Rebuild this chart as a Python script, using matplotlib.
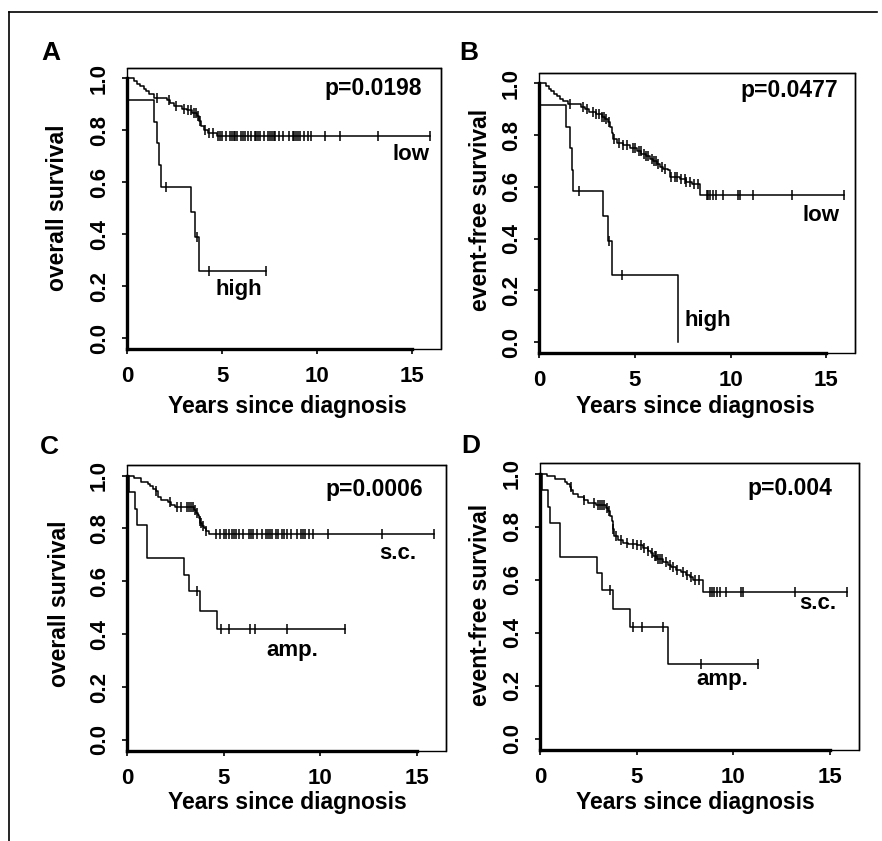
import numpy as np
import matplotlib
matplotlib.use("Agg")
import matplotlib.pyplot as plt
from matplotlib.lines import Line2D
from matplotlib.patches import Rectangle

plt.rcParams["font.family"] = ["Liberation Sans", "DejaVu Sans"]
plt.rcParams["font.weight"] = "bold"

W, H = 882, 841

# =========================
# data
# =========================
# A: overall survival, low / high
a_low_t = [0, 0.35, 0.55, 0.7, 0.87, 1.0, 1.14, 1.4, 2.1, 2.27, 2.45, 2.88, 3.15, 3.41, 3.67, 3.79, 3.9, 4.02, 4.28, 4.72]
a_low_s = [1.0, 0.99, 0.98, 0.97, 0.96, 0.95, 0.94, 0.923, 0.915, 0.906, 0.893, 0.884, 0.878, 0.867, 0.854, 0.835, 0.818, 0.80, 0.79, 0.777]
a_low_c = [1.6, 2.2, 2.6, 3.0, 3.2, 3.35, 3.5, 3.6, 3.75, 3.85, 4.1, 4.3, 4.5, 4.8, 4.9, 5.0, 5.2, 5.4, 5.5,
           5.6, 5.7, 5.8, 6.0, 6.1, 6.2, 6.35, 6.5, 6.7, 6.8, 6.9, 7.0, 7.2, 7.4, 7.5, 7.6, 7.7, 7.8, 8.0,
           8.2, 8.5, 8.7, 8.8, 8.9, 9.0, 9.1, 9.3, 9.5, 9.65, 10.4, 11.2, 13.2, 15.9]

a_high_t = [0, 0.05, 1.4, 1.6, 1.7, 1.8, 3.36, 3.58, 3.8]
a_high_s = [1.0, 0.917, 0.833, 0.75, 0.667, 0.583, 0.486, 0.389, 0.259]
a_high_c = [2.05, 3.66, 4.3, 7.3]

# B: event-free survival, low / high
b_low_t = [0, 0.35, 0.5, 0.65, 0.8, 0.95, 1.1, 1.25, 1.5, 2.2, 2.4, 2.6, 3.0, 3.3, 3.47, 3.6, 3.7, 3.8,
           3.87, 4.05, 4.4, 4.74, 5.1, 5.35, 5.6, 5.8, 5.97, 6.15, 6.3, 6.5, 6.75, 6.84, 7.36, 7.7, 7.97, 8.4]
b_low_s = [1.0, 0.99, 0.98, 0.97, 0.96, 0.95, 0.94, 0.93, 0.92, 0.91, 0.90, 0.891, 0.88, 0.87, 0.862, 0.85,
           0.83, 0.81, 0.785, 0.77, 0.76, 0.751, 0.74, 0.728, 0.72, 0.709, 0.70, 0.69, 0.677, 0.67, 0.664,
           0.638, 0.63, 0.62, 0.61, 0.569]
b_low_c = [1.6, 2.3, 2.5, 2.8, 3.0, 3.15, 3.3, 3.4, 3.5, 3.65, 3.9, 4.2, 4.4, 4.6, 4.9, 5.0, 5.2, 5.3, 5.5,
           5.6, 5.7, 5.9, 6.0, 6.1, 6.2, 6.4, 6.6, 6.9, 7.1, 7.2, 7.4, 7.6, 7.7, 7.9, 8.1, 8.3, 8.75, 8.85,
           8.95, 9.1, 9.25, 9.6, 10.4, 10.5, 11.2, 13.2, 15.9]

b_high_t = [0, 0.05, 1.4, 1.6, 1.7, 1.8, 3.36, 3.58, 3.8, 7.24]
b_high_s = [1.0, 0.917, 0.833, 0.75, 0.667, 0.583, 0.486, 0.389, 0.259, 0.0]
b_high_c = [2.09, 3.66, 4.31]

# C: overall survival, s.c. / amp.
c_sc_t = [0, 0.35, 0.7, 1.1, 1.2, 1.35, 1.5, 1.6, 1.76, 2.1, 2.3, 2.47, 3.45, 3.55, 3.65, 3.7, 3.75, 3.8,
          3.9, 4.0, 4.1, 4.25]
c_sc_s = [1.0, 0.99, 0.975, 0.97, 0.96, 0.95, 0.94, 0.92, 0.909, 0.90, 0.89, 0.88, 0.87, 0.86, 0.85, 0.84,
          0.83, 0.82, 0.81, 0.80, 0.79, 0.779]
c_sc_c = [1.5, 2.2, 2.6, 2.8, 3.1, 3.2, 3.3, 3.4, 3.5, 3.6, 3.75, 3.85, 3.95, 4.1, 4.6, 4.8, 5.0, 5.1, 5.3,
          5.45, 5.55, 5.65, 5.8, 6.0, 6.3, 6.4, 6.5, 6.7, 7.0, 7.2, 7.3, 7.4, 7.5, 7.7, 7.8, 8.0, 8.1, 8.3,
          8.5, 8.8, 9.0, 9.1, 9.2, 9.4, 9.6, 10.4, 13.2, 15.9]

c_amp_t = [0, 0.08, 0.43, 0.52, 1.03, 2.93, 3.22, 3.76, 4.66]
c_amp_s = [1.0, 0.9375, 0.875, 0.8125, 0.6875, 0.625, 0.5625, 0.488, 0.42]
c_amp_c = [3.62, 4.86, 5.26, 6.34, 6.64, 8.3, 11.3]

# D: event-free survival, s.c. / amp.
d_sc_t = [0, 0.34, 0.8, 1.3, 1.4, 1.55, 1.62, 1.72, 1.98, 2.3, 2.5, 2.92, 3.4, 3.5, 3.6, 3.7, 3.76, 3.85,
          4.04, 4.3, 4.56, 5.0, 5.33, 5.59, 5.75, 5.85, 6.06, 6.37, 6.62, 6.79, 7.05, 7.31, 7.57, 7.74,
          7.91, 8.43]
d_sc_s = [1.0, 0.99, 0.98, 0.97, 0.96, 0.95, 0.94, 0.922, 0.91, 0.90, 0.89, 0.88, 0.87, 0.86, 0.84, 0.82,
          0.79, 0.764, 0.75, 0.74, 0.736, 0.73, 0.72, 0.707, 0.70, 0.688, 0.678, 0.665, 0.657, 0.648,
          0.638, 0.628, 0.619, 0.61, 0.60, 0.552]
d_sc_c = [1.6, 2.3, 2.8, 3.0, 3.1, 3.2, 3.3, 3.45, 3.55, 3.8, 3.95, 4.2, 4.5, 4.8, 5.0, 5.2, 5.4, 5.6, 5.8,
          5.95, 6.0, 6.1, 6.2, 6.3, 6.5, 6.7, 6.9, 7.1, 7.4, 7.6, 7.8, 8.0, 8.2, 8.8, 8.9, 9.0, 9.15, 9.3,
          9.6, 10.4, 10.5, 13.2, 15.9]

d_amp_t = [0, 0.08, 0.43, 0.52, 1.03, 2.93, 3.22, 3.76, 4.66, 6.64]
d_amp_s = [1.0, 0.9375, 0.875, 0.8125, 0.6875, 0.625, 0.5625, 0.488, 0.42, 0.282]
d_amp_c = [3.62, 4.82, 5.28, 6.36, 8.34, 11.27]

# p-values and group labels
p_values = ["p=0.0198", "p=0.0477", "p=0.0006", "p=0.004"]
y_labels = ["overall survival", "event-free survival", "overall survival", "event-free survival"]
panel_letters = ["A", "B", "C", "D"]
group_labels = [("low", "high"), ("low", "high"), ("s.c.", "amp."), ("s.c.", "amp.")]

curves = [
    [(a_low_t, a_low_s, a_low_c), (a_high_t, a_high_s, a_high_c)],
    [(b_low_t, b_low_s, b_low_c), (b_high_t, b_high_s, b_high_c)],
    [(c_sc_t, c_sc_s, c_sc_c), (c_amp_t, c_amp_s, c_amp_c)],
    [(d_sc_t, d_sc_s, d_sc_c), (d_amp_t, d_amp_s, d_amp_c)],
]

# =========================
# layout (pixels of the 882x841 picture)
# =========================
# left, right, top, bottom of each axes box
boxes = [(127, 441, 68, 349), (539, 855, 73, 353), (127, 446, 465, 751), (540, 859, 463, 750)]
letter_pos = [(51, 53), (469, 53), (49, 447), (471, 446)]
ylabel_pos = [(58, 208), (480, 210), (59, 604), (480, 605)]
xlabel_pos = [(287, 407), (695, 407), (287, 802), (695, 803)]
# text positions in data coords: p-value (right edge), first group label, second group label
p_pos = [(15.5, 0.96), (15.6, 0.973), (15.3, 0.947), (15.1, 0.943)]
g1_pos = [(14.9, 0.706), (14.7, 0.49), (14.0, 0.705), (14.35, 0.51)]
g2_pos = [(5.9, 0.186), (8.83, 0.084), (8.54, 0.337), (9.43, 0.223)]

XMAX = 16.5
YMIN, YMAX = -0.042, 1.04


def step_value(times, surv, t):
    idx = np.searchsorted(times, t, side="right") - 1
    return surv[idx]


fig = plt.figure(figsize=(W / 100, H / 100), dpi=100)

# outer frame (top and left only)
fig.add_artist(Line2D([9 / W, 877 / W], [1 - 12 / H, 1 - 12 / H], color="black", lw=1.2))
fig.add_artist(Line2D([9 / W, 9 / W], [1 - 12 / H, 0], color="black", lw=1.2))

for i in range(4):
    l, r, t, b = boxes[i]
    ax = fig.add_axes([l / W, 1 - b / H, (r - l) / W, (b - t) / H])
    ax.set_xlim(0, XMAX)
    ax.set_ylim(YMIN, YMAX)

    for times, surv, cens in curves[i]:
        times = np.array(times)
        surv = np.array(surv)
        end = max(times[-1], max(cens))
        ax.step(np.append(times, end), np.append(surv, surv[-1]), where="post",
                color="black", lw=1.1)
        cy = [step_value(times, surv, c) for c in cens]
        ax.plot(cens, cy, ls="none", marker="|", ms=7, mew=1.1, color="black")

    # frame: thin box, thick axis lines
    for side in ["top", "right"]:
        ax.spines[side].set_linewidth(1.0)
    ax.spines["left"].set_linewidth(2.4)
    ax.spines["left"].set_bounds(YMIN, 1.0)
    ax.spines["bottom"].set_linewidth(2.4)
    ax.spines["bottom"].set_bounds(0, 15)
    ax.add_patch(Rectangle((0, 0), 1, 1, transform=ax.transAxes, fill=False,
                           lw=1.0, ec="black", clip_on=False))

    ax.set_xticks([0, 5, 10, 15])
    ax.set_yticks([0, 0.2, 0.4, 0.6, 0.8, 1.0])
    ax.set_yticklabels(["0.0", "0.2", "0.4", "0.6", "0.8", "1.0"])
    ax.tick_params(axis="both", direction="out", length=3.5, width=1.2, labelsize=16, pad=9)
    for lab in ax.get_yticklabels():
        lab.set_rotation(90)
        lab.set_va("center")
        lab.set_ha("right")
        lab.set_fontweight("bold")
    for lab in ax.get_xticklabels():
        lab.set_fontweight("bold")

    ax.text(p_pos[i][0], p_pos[i][1], p_values[i], ha="right", va="center",
            fontsize=16.5, fontweight="bold")
    ax.text(g1_pos[i][0], g1_pos[i][1], group_labels[i][0], ha="center", va="center",
            fontsize=16, fontweight="bold")
    ax.text(g2_pos[i][0], g2_pos[i][1], group_labels[i][1], ha="center", va="center",
            fontsize=16, fontweight="bold")

    fig.text(letter_pos[i][0] / W, 1 - letter_pos[i][1] / H, panel_letters[i],
             ha="center", va="center", fontsize=19, fontweight="bold")
    fig.text(ylabel_pos[i][0] / W, 1 - ylabel_pos[i][1] / H, y_labels[i], rotation=90,
             ha="center", va="center", fontsize=16.5, fontweight="bold")
    fig.text(xlabel_pos[i][0] / W, 1 - xlabel_pos[i][1] / H, "Years since diagnosis",
             ha="center", va="center", fontsize=16.5, fontweight="bold")

fig.savefig("out.png", dpi=100)
